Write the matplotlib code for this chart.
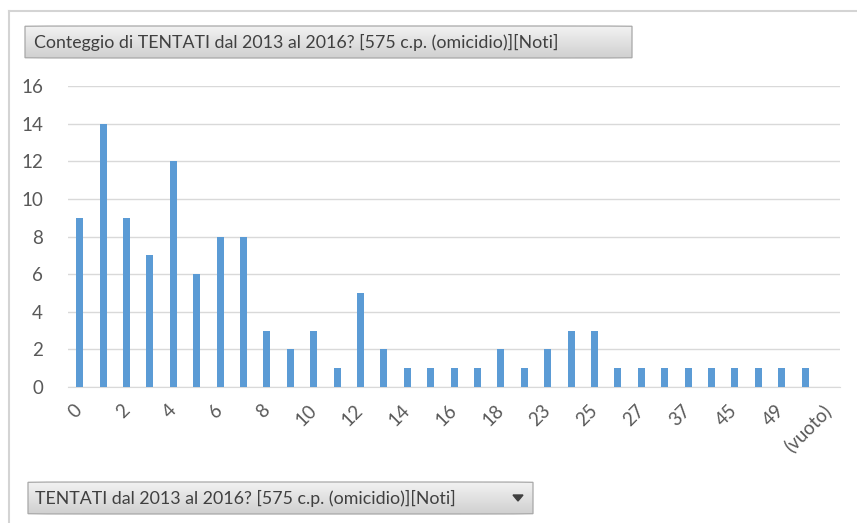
import numpy as np
import matplotlib.pyplot as plt
from matplotlib.patches import FancyBboxPatch, Polygon
from matplotlib.lines import Line2D
from matplotlib.colors import LinearSegmentedColormap

plt.rcParams['font.family'] = ['Lato', 'DejaVu Sans']

# categories (every other one labelled on the axis, as in the pivot chart)
categories = ['0', '1', '2', '3', '4', '5', '6', '7', '8', '9', '10', '11', '12',
              '13', '14', '15', '16', '17', '18', '20', '23', '24', '25', '26',
              '27', '30', '37', '40', '45', '48', '49', '50', '(vuoto)']
counts = [9, 14, 9, 7, 12, 6, 8, 8, 3, 2, 3, 1, 5, 2, 1, 1, 1, 1, 2, 1, 2, 3, 3,
          1, 1, 1, 1, 1, 1, 1, 1, 1, None]
yticks = [0, 2, 4, 6, 8, 10, 12, 14, 16]

title_text = 'Conteggio di TENTATI dal 2013 al 2016? [575 c.p. (omicidio)][Noti]'
field_text = 'TENTATI dal 2013 al 2016? [575 c.p. (omicidio)][Noti]'

text_col = '#595959'
bar_col = '#5B9BD5'
grid_col = '#d9d9d9'

fig = plt.figure(figsize=(8.57, 5.23), dpi=100)
ax = fig.add_axes([0.0793, 0.260, 0.901, 0.5755])

xs = [i for i, v in enumerate(counts) if v is not None]
vals = [v for v in counts if v is not None]
ax.bar(xs, vals, width=0.3, color=bar_col, zorder=3)

ax.set_xlim(-0.5, len(categories) - 0.5)
ax.set_ylim(0, 16)
ax.set_yticks(yticks)
ax.yaxis.grid(True, color=grid_col, linewidth=1)
ax.set_axisbelow(True)
for s in ['top', 'right', 'left']:
    ax.spines[s].set_visible(False)
ax.spines['bottom'].set_color(grid_col)
ax.tick_params(axis='both', length=0, colors=text_col, labelsize=13.5)
ax.tick_params(axis='y', pad=18)

tick_idx = list(range(0, len(categories), 2))
ax.set_xticks(tick_idx)
ax.set_xticklabels([categories[i] for i in tick_idx], rotation=45,
                   ha='right', va='center', rotation_mode='anchor')
ax.tick_params(axis='x', pad=15)

# outer frame of the pivot chart
fig.add_artist(Line2D([9 / 857, 1], [1 - 11 / 523] * 2, color='#d4d4d4', lw=1.5))
fig.add_artist(Line2D([9 / 857] * 2, [0, 1 - 11 / 523], color='#d4d4d4', lw=1.5))

# field buttons with a light grey gradient
grad = LinearSegmentedColormap.from_list('btn', ['#f2f2f2', '#d0d0d0'])

def button(x0, y0, x1, y1):
    w = (x1 - x0) / 857
    h = (y1 - y0) / 523
    bax = fig.add_axes([x0 / 857, 1 - y1 / 523, w, h])
    bax.set_axis_off()
    img = bax.imshow(np.linspace(0, 1, 50).reshape(-1, 1), cmap=grad,
                     aspect='auto', extent=[0, 1, 0, 1], origin='upper')
    p = FancyBboxPatch((0, 0), 1, 1,
                       boxstyle='round,pad=0,rounding_size=0.15',
                       mutation_aspect=1 / (w * 857 / (h * 523)) * 1,
                       transform=bax.transAxes, facecolor='none',
                       edgecolor='#a8a8a8', lw=0.9, clip_on=False)
    bax.add_patch(p)
    img.set_clip_path(p)
    return bax

button(25, 26, 632, 58)
fig.text(34 / 857, 1 - 42 / 523, title_text, fontsize=12.8, color='#404040',
         va='center', ha='left')

button(28, 482, 533, 514)
fig.text(35 / 857, 1 - 498 / 523, field_text, fontsize=12.8, color='#404040',
         va='center', ha='left')
tri = Polygon([[513 / 857, 1 - 495 / 523], [523 / 857, 1 - 495 / 523],
               [518 / 857, 1 - 501 / 523]], closed=True,
              transform=fig.transFigure, color='#404040', zorder=5)
fig.add_artist(tri)

fig.savefig('out.png', dpi=100)
